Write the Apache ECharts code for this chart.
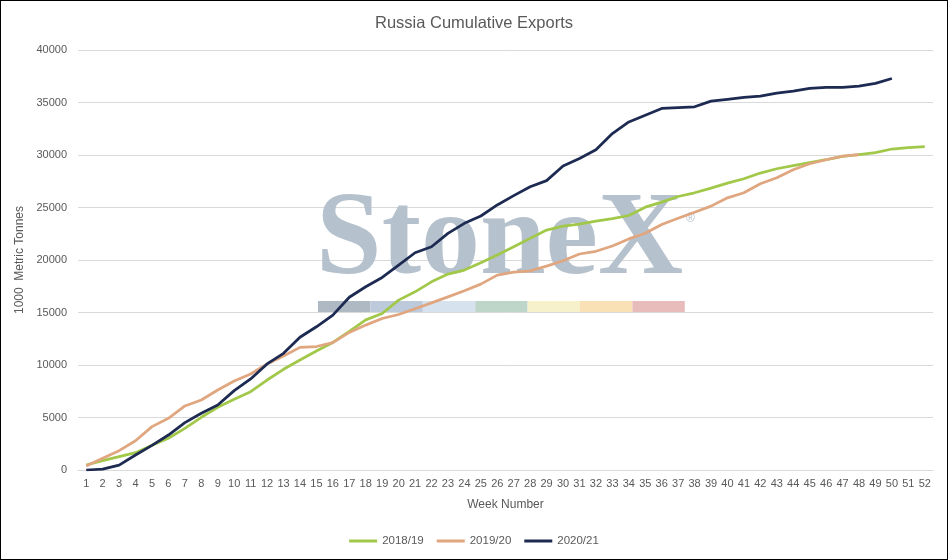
<!DOCTYPE html>
<html>
<head>
	<title>Russia Cumulative Exports</title>
	<meta http-equiv="Content-Type" content="text/html; charset=utf-8">
	<script type="text/javascript" src="https://cdn.jsdelivr.net/npm/echarts@6/dist/echarts.min.js"></script>
	<style>
		body{ margin:0; background:#fff }
		#main{ width:948px; height:560px; box-sizing:border-box; border:1px solid #000 }
	</style>
</head>
<body>
	<div id="main"></div>

	<script type="text/javascript">
        // week numbers
        var weeks = [];
        for (var w = 1; w <= 52; w++) { weeks.push(String(w)); }

        var yTicks = [0, 5000, 10000, 15000, 20000, 25000, 30000, 35000, 40000];

        // 1000 metric tonnes
        var s1819 = [480, 890, 1270, 1650, 2350, 3020, 3970, 5020, 5970, 6730,
            7460, 8570, 9590, 10480, 11330, 12150, 13200, 14300, 14900, 16180,
            16970, 17920, 18660, 19040, 19740, 20470, 21260, 22060, 22850, 23230,
            23420, 23700, 23950, 24240, 25030, 25510, 26050, 26400, 26850, 27320,
            27740, 28280, 28690, 28980, 29270, 29550, 29870, 30030, 30220, 30570,
            30700, 30800];
        var s1920 = [380, 1110, 1840, 2790, 4130, 4920, 6100, 6670, 7620, 8480,
            9140, 10100, 10860, 11680, 11760, 12130, 13100, 13800, 14430, 14810,
            15350, 15920, 16490, 17070, 17700, 18560, 18850, 18970, 19420, 19930,
            20570, 20830, 21330, 22010, 22550, 23380, 23980, 24550, 25130, 25920,
            26400, 27260, 27830, 28600, 29170, 29550, 29900, 30030];
        var s2021 = [0, 80, 460, 1430, 2350, 3330, 4510, 5400, 6190, 7560,
            8670, 10100, 11110, 12640, 13640, 14750, 16450, 17450, 18340, 19510,
            20690, 21260, 22530, 23490, 24190, 25240, 26130, 26980, 27560, 28950,
            29670, 30500, 32040, 33150, 33790, 34430, 34520, 34590, 35130, 35290,
            35480, 35610, 35890, 36080, 36340, 36430, 36430, 36560, 36820, 37290];

        var font = "'Liberation Sans', Arial, sans-serif";
        var grey = '#595959';

        // watermark bar colours
        var wmBars = ['#aeb9c4', '#bccadb', '#d6e3ef', '#bed5c9', '#f6f1cb', '#f9e0b5', '#e8bcbb'];
        var wm = [{
            type: 'text', z: 1, x: 315, y: 183,
            style: { text: 'StoneX', font: "bold 118px 'Liberation Serif', serif", fill: '#b5c1cc' }
        }, {
            type: 'text', z: 1, x: 685, y: 212,
            style: { text: '®', font: "12px 'Liberation Sans', sans-serif", fill: '#b5c1cc' }
        }];
        for (var i = 0; i < wmBars.length; i++) {
            wm.push({ type: 'rect', z: 1, shape: { x: 317 + i * 52.4, y: 300, width: 52.4, height: 11 },
                style: { fill: wmBars[i] } });
        }

        var myChart = echarts.init(document.getElementById('main'));

        var option = {
            animation: false,
            backgroundColor: '#fff',
            textStyle: { fontFamily: font },
            title: {
                text: 'Russia Cumulative Exports',
                left: 'center',
                top: 9,
                textStyle: { fontSize: 16.5, fontWeight: 'normal', color: grey, fontFamily: font }
            },
            legend: {
                bottom: 7,
                left: 'center',
                icon: 'rect',
                itemWidth: 28,
                itemHeight: 3,
                itemGap: 13,
                textStyle: { fontSize: 11.5, color: grey },
                data: ['2018/19', '2019/20', '2020/21']
            },
            graphic: wm,
            grid: {
                left: 77,
                right: 14,
                top: 49,
                bottom: 89
            },
            xAxis: {
                type: 'category',
                data: weeks,
                boundaryGap: true,
                name: 'Week Number',
                nameLocation: 'middle',
                nameGap: 29,
                nameTextStyle: { fontSize: 12, color: grey },
                axisLine: { lineStyle: { color: '#d9d9d9' } },
                axisTick: { show: false },
                axisLabel: { interval: 0, margin: 8, fontSize: 11, color: grey }
            },
            yAxis: {
                type: 'value',
                min: yTicks[0],
                max: yTicks[yTicks.length - 1],
                interval: 5000,
                name: '1000  Metric Tonnes',
                nameLocation: 'middle',
                nameRotate: 90,
                nameGap: 51,
                nameTextStyle: { fontSize: 12, color: grey },
                axisLine: { show: false },
                axisTick: { show: false },
                axisLabel: { margin: 11, fontSize: 11, color: grey,
                    formatter: function (v) { return String(v); } },
                splitLine: { lineStyle: { color: '#d9d9d9' } }
            },
            series: [
                { name: '2018/19', type: 'line', data: s1819, symbol: 'none', z: 3,
                  itemStyle: { color: '#a2c84a' }, lineStyle: { width: 2.75, color: '#a2c84a', join: 'round' } },
                { name: '2019/20', type: 'line', data: s1920, symbol: 'none', z: 3,
                  itemStyle: { color: '#dfa67f' }, lineStyle: { width: 2.75, color: '#dfa67f', join: 'round' } },
                { name: '2020/21', type: 'line', data: s2021, symbol: 'none', z: 4,
                  itemStyle: { color: '#1d2a52' }, lineStyle: { width: 2.75, color: '#1d2a52', join: 'round' } }
            ]
        };

        myChart.setOption(option);
	</script>
</body>
</html>
